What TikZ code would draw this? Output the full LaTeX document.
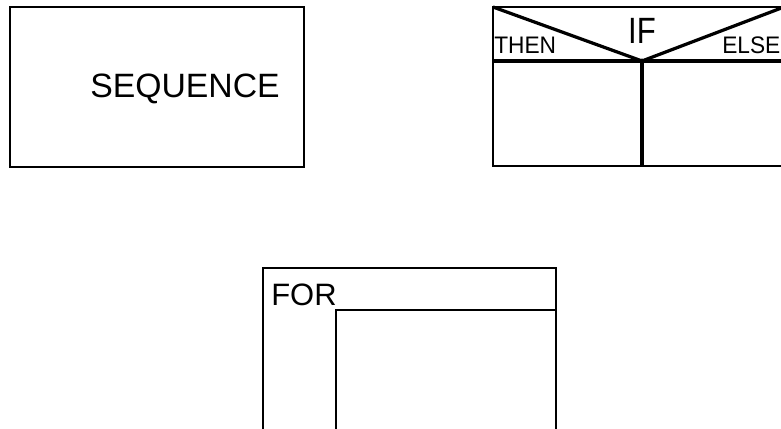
\documentclass[tikz,border=0pt]{standalone}
\usepackage{fontspec}
\setmainfont{Liberation Sans}
\usetikzlibrary{positioning,calc}

\begin{document}
\begin{tikzpicture}[x=0.025cm,y=-0.025cm,
  box/.style={line width=1.6pt},
  heavy/.style={line width=2.3pt},
  lbl/.style={inner sep=0pt,anchor=base west}]
  \useasboundingbox (0,0) rectangle (781,428);
  % sequence
  \draw[box] (10,7) rectangle (304,167);
  \node[lbl,font=\fontsize{24}{24}\selectfont] (seq) at (90,97) {SEQUENCE};
  % if then else
  \coordinate (iftl) at (493,7);
  \coordinate (iftr) at (784,7);
  \coordinate (ifv) at (642,61);
  \draw[box] (iftl) rectangle (790,166);
  \draw[heavy] (493,61) -- (790,61);
  \draw[heavy,line join=round] (iftl) -- (ifv) -- (iftr);
  \draw[heavy] (ifv) -- (642,166);
  \fill (ifv) circle (2.5);
  \node[lbl,font=\fontsize{17}{17}\selectfont,xscale=0.95] (then) at (494,53) {THEN};
  \node[lbl,font=\fontsize{26}{26}\selectfont,xscale=0.85] (if) at (628,43) {IF};
  \node[lbl,font=\fontsize{17}{17}\selectfont,xscale=0.95] (else) at (722,53) {ELSE};
  % for
  \draw[box] (263,268) rectangle (556,432);
  \draw[box,line width=1.8pt] (336,432) |- (556,310);
  \node[lbl,font=\fontsize{22}{22}\selectfont] (for) at (271,305) {FOR};
\end{tikzpicture}
\end{document}
